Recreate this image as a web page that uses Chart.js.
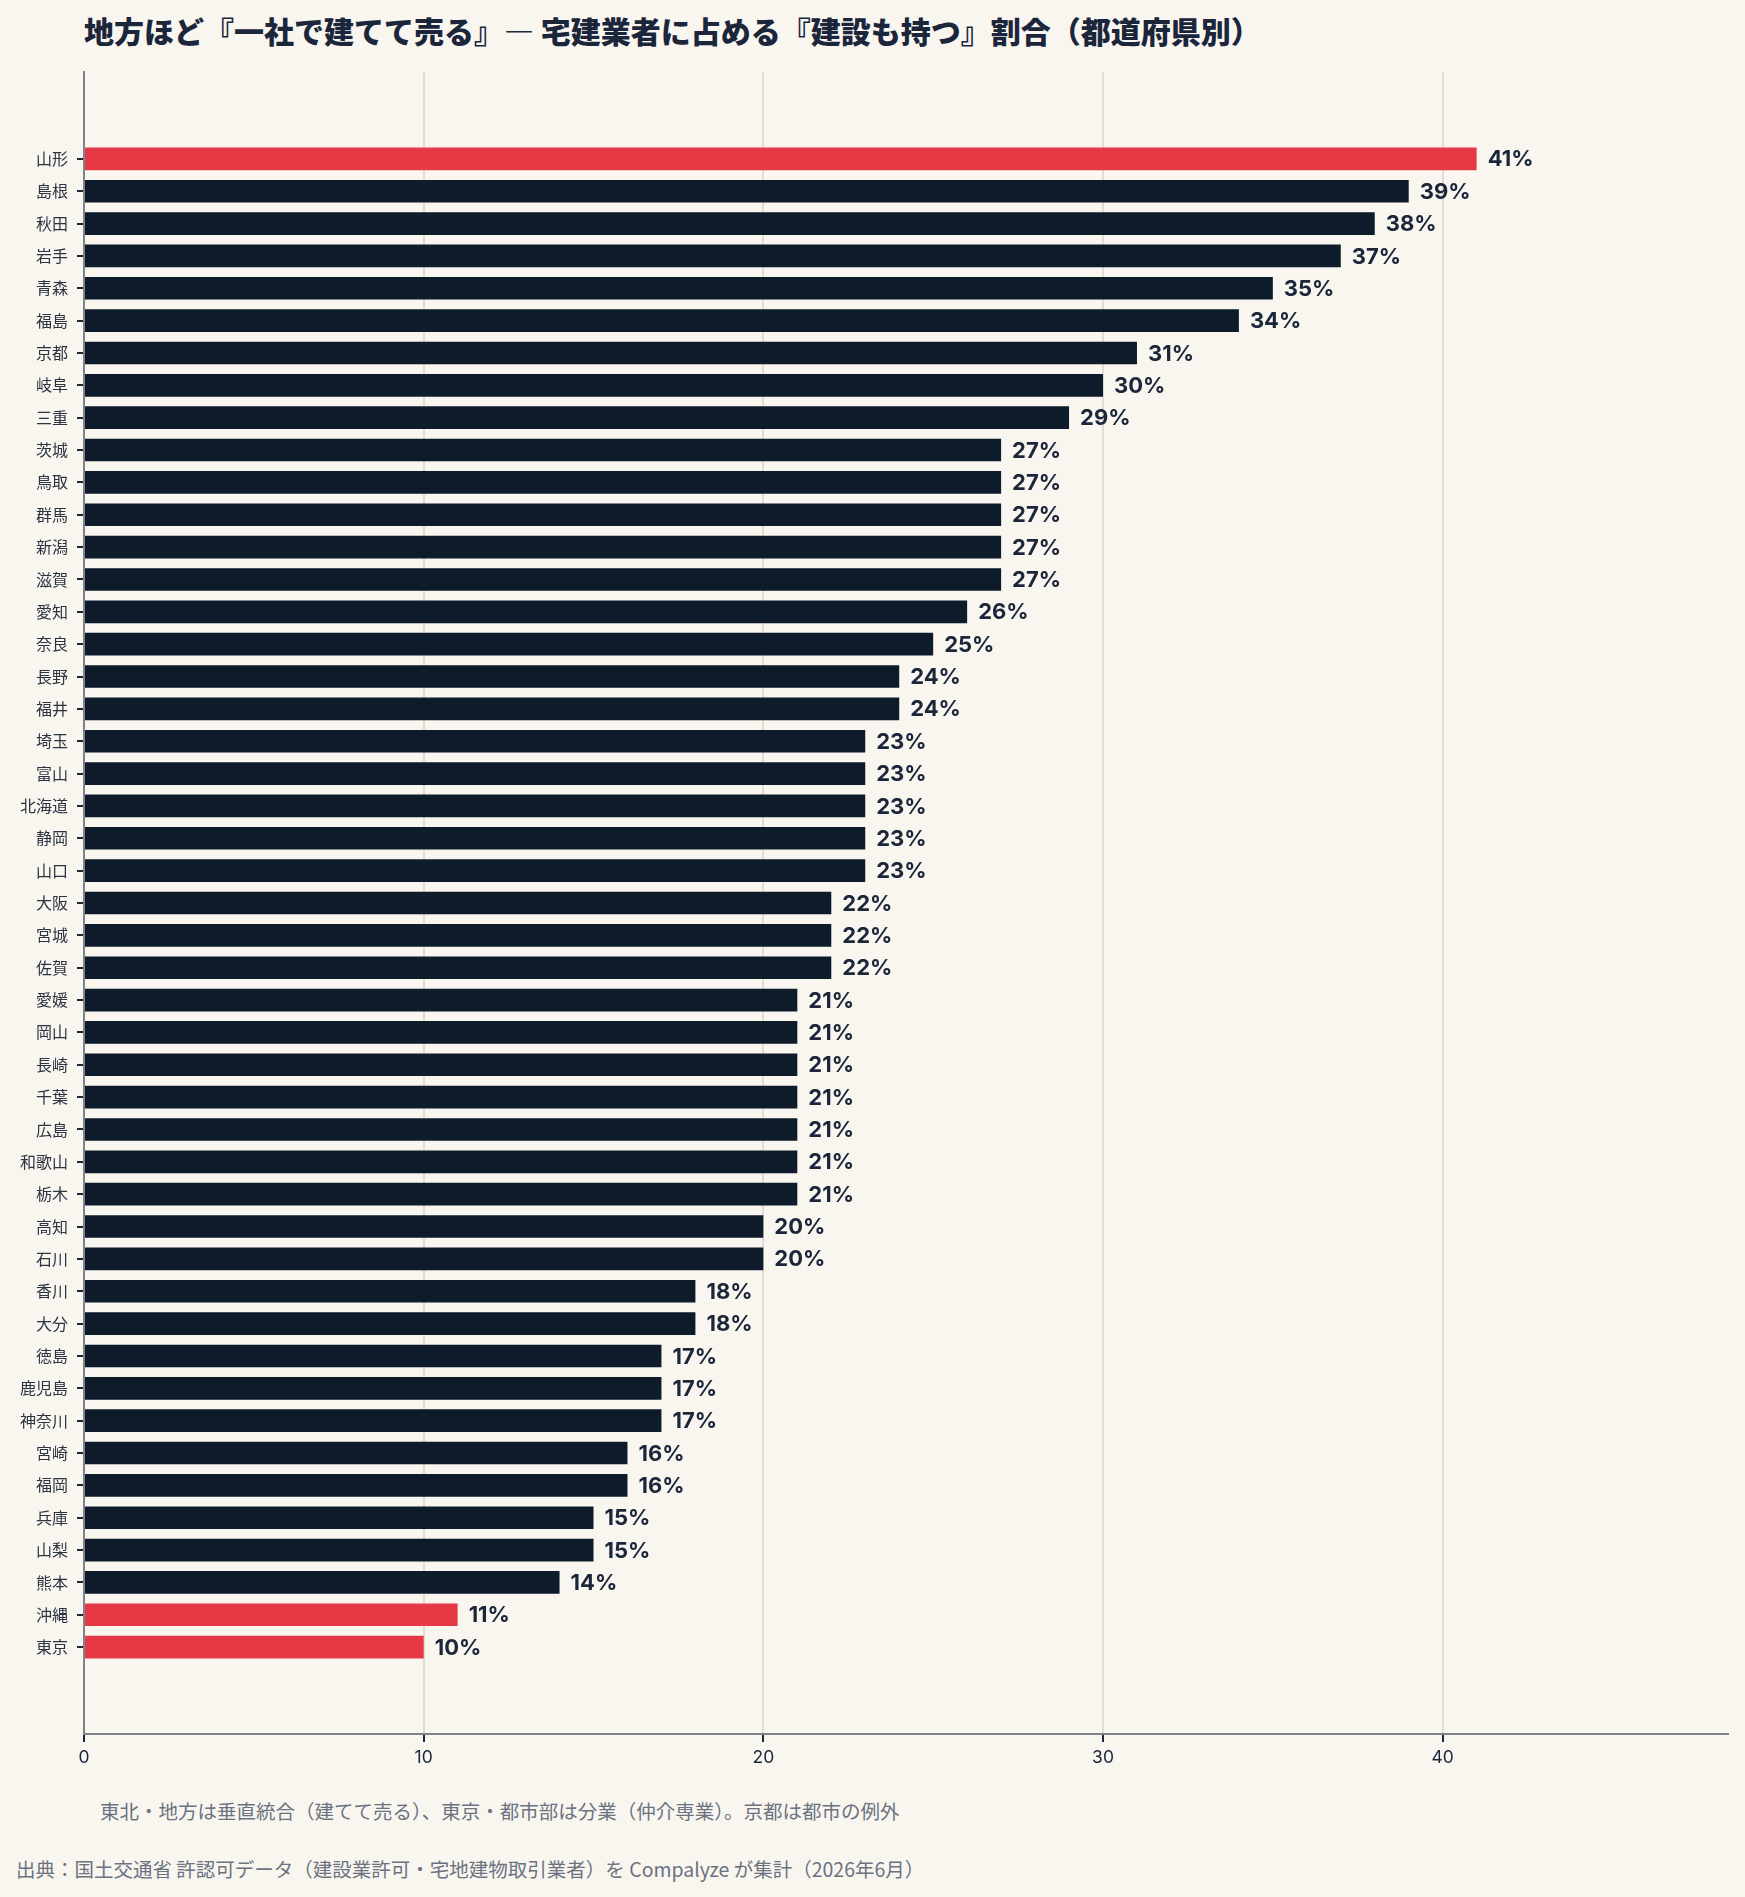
<!DOCTYPE html>
<html lang="ja">
<head>
<meta charset="utf-8">
<script src="https://cdn.jsdelivr.net/npm/chart.js@4.4.1/dist/chart.umd.min.js"></script>
<style>
    html, body { margin: 0; padding: 0; background: #f9f6f0; }
    body { width: 1745px; height: 1897px; position: relative; overflow: hidden; font-family: "Noto Sans CJK JP", "Noto Sans", sans-serif; }
    #title { position: absolute; left: 84px; top: 12px; font-size: 30px; line-height: 36px; font-weight: 900; color: #1b263b; white-space: nowrap; }
    #chart-box { position: absolute; left: 0; top: 0; width: 1745px; height: 1790px; }
    #note { position: absolute; left: 100px; top: 1799px; font-size: 19.5px; line-height: 24px; color: #6b7280; white-space: nowrap; }
    #source { position: absolute; left: 16px; top: 1857px; font-size: 19.5px; line-height: 24px; color: #6b7280; white-space: nowrap; }
</style>
</head>
<body>
<div id="title">地方ほど『一社で建てて売る』— 宅建業者に占める『建設も持つ』割合（都道府県別）</div>
<div id="chart-box"><canvas id="chart"></canvas></div>
<div id="note">東北・地方は垂直統合（建てて売る）、東京・都市部は分業（仲介専業）。京都は都市の例外</div>
<div id="source">出典：国土交通省 許認可データ（建設業許可・宅地建物取引業者）を Compalyze が集計（2026年6月）</div>

<script>
// 都道府県（上から順）
const prefectures = [
    '山形', '島根', '秋田', '岩手', '青森', '福島', '京都', '岐阜', '三重', '茨城',
    '鳥取', '群馬', '新潟', '滋賀', '愛知', '奈良', '長野', '福井', '埼玉', '富山',
    '北海道', '静岡', '山口', '大阪', '宮城', '佐賀', '愛媛', '岡山', '長崎', '千葉',
    '広島', '和歌山', '栃木', '高知', '石川', '香川', '大分', '徳島', '鹿児島', '神奈川',
    '宮崎', '福岡', '兵庫', '山梨', '熊本', '沖縄', '東京'
];

// 建設も持つ割合（%）
const shares = [
    41, 39, 38, 37, 35, 34, 31, 30, 29, 27,
    27, 27, 27, 27, 26, 25, 24, 24, 23, 23,
    23, 23, 23, 22, 22, 22, 21, 21, 21, 21,
    21, 21, 21, 20, 20, 18, 18, 17, 17, 17,
    16, 16, 15, 15, 14, 11, 10
];

const highlighted = ['山形', '沖縄', '東京'];
const xTicks = [0, 10, 20, 30, 40];

const NAVY = '#0d1b2a';
const RED = '#e63946';
const INK = '#1b263b';

const points = shares.map((v, i) => ({ x: v, y: i }));
const barColors = prefectures.map(p => highlighted.includes(p) ? RED : NAVY);

const valueLabels = {
    id: 'valueLabels',
    afterDatasetsDraw(chart) {
        const ctx = chart.ctx;
        const meta = chart.getDatasetMeta(0);
        ctx.save();
        ctx.font = '700 22px Inter, "Noto Sans CJK JP", sans-serif';
        ctx.fillStyle = INK;
        ctx.textAlign = 'left';
        ctx.textBaseline = 'middle';
        meta.data.forEach((bar, i) => {
            ctx.fillText(shares[i] + '%', bar.x + 11, bar.y + 1);
        });
        ctx.restore();
    }
};

const n = prefectures.length;
const pad = (n - 1 + 0.7) * 0.05;

new Chart(document.getElementById('chart'), {
    type: 'bar',
    data: {
        datasets: [{
            data: points,
            backgroundColor: barColors,
            borderWidth: 0,
            categoryPercentage: 1,
            barPercentage: 0.7
        }]
    },
    options: {
        indexAxis: 'y',
        responsive: true,
        maintainAspectRatio: false,
        animation: false,
        layout: { padding: { left: 0, right: 17, top: 72, bottom: 0 } },
        plugins: {
            legend: { display: false },
            tooltip: { enabled: false }
        },
        scales: {
            x: {
                type: 'linear',
                min: 0,
                max: 48.4,
                bounds: 'data',
                afterBuildTicks: s => { s.ticks = xTicks.map(v => ({ value: v })); },
                afterFit: s => { s.height = 56; },
                ticks: {
                    color: INK,
                    font: { size: 17.5, family: 'Inter, "Noto Sans CJK JP", sans-serif' },
                    padding: 5,
                    maxRotation: 0
                },
                grid: {
                    color: '#e2ddd3',
                    lineWidth: 2,
                    tickColor: INK,
                    tickLength: 8
                },
                border: { display: true, color: '#7f8388', width: 2 }
            },
            y: {
                type: 'linear',
                reverse: true,
                offset: false,
                min: -pad - 0.35,
                max: n - 1 + 0.35 + pad,
                bounds: 'data',
                afterBuildTicks: s => { s.ticks = prefectures.map((_, i) => ({ value: i })); },
                afterFit: s => { s.width = 84; },
                ticks: {
                    color: '#2b3440',
                    font: { size: 16, family: '"Noto Sans CJK JP", sans-serif' },
                    padding: 9,
                    callback: v => prefectures[v]
                },
                grid: {
                    offset: false,
                    drawOnChartArea: false,
                    tickColor: INK,
                    tickLength: 7,
                    lineWidth: 2
                },
                border: { display: true, color: '#7f8388', width: 2 }
            }
        }
    },
    plugins: [valueLabels]
});
</script>
</body>
</html>
